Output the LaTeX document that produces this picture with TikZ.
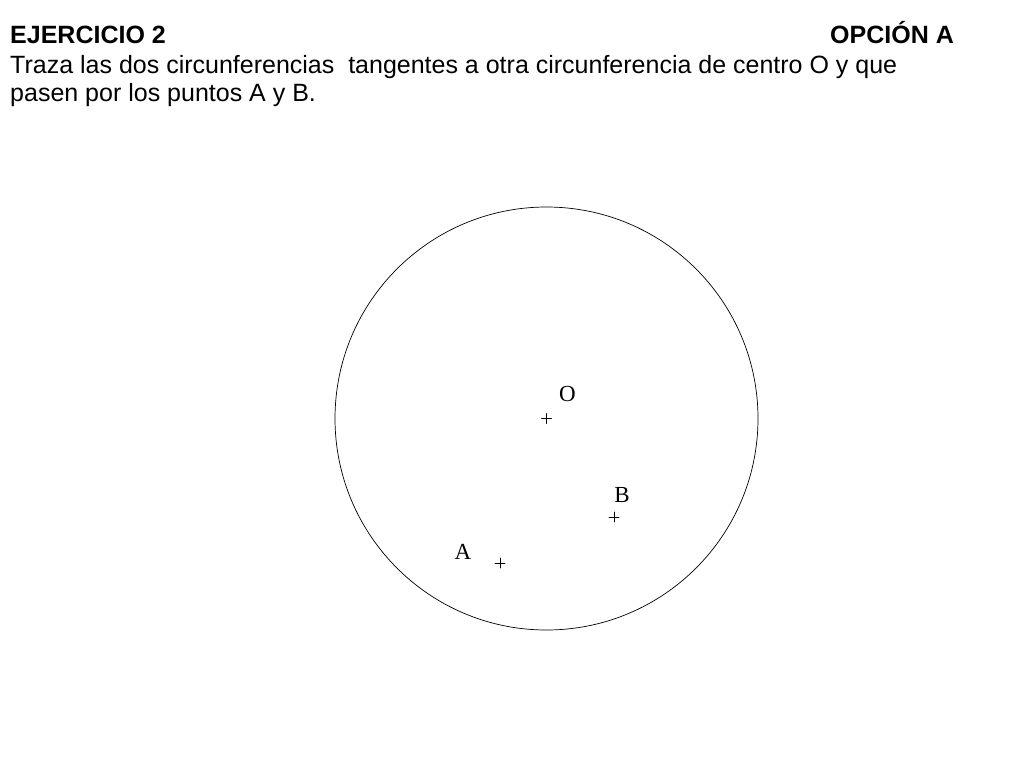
\documentclass[tikz,border=0pt]{standalone}
\usepackage{fontspec}
\setmainfont{Liberation Sans}
\newfontfamily\labelfont{Liberation Serif}
\tikzset{
  enunciado/.style={anchor=base west, inner sep=0pt, font=\fontsize{25}{29}\selectfont},
  rotulo/.style={inner sep=0pt, font=\labelfont\fontsize{23}{25}\selectfont},
  cruz/.style={line width=0.8pt}
}
\begin{document}
\begin{tikzpicture}[x=1pt, y=-1pt, line join=round, line cap=round]
			\useasboundingbox (0,0) rectangle (1024,768);
			% enunciado
			\node[enunciado] (titulo) at (10,44) {\textbf{EJERCICIO 2}};
			\node[enunciado] (opcion) at (830,44) {\textbf{OPCIÓN A}};
			\node[enunciado] (linea1) at (10,73) {Traza las dos circunferencias\ \ tangentes a otra circunferencia de centro O y que};
			\node[enunciado] (linea2) at (10,101) {pasen por los puntos A y B.};
			% puntos
			\coordinate (O) at (546.5,418.5);
			\coordinate (A) at (500,563);
			\coordinate (B) at (614,517);
			\draw[line width=0.7pt] (O) circle (211.5);
			\foreach \p in {O,A,B}
			\draw[cruz] (\p) +(-5,0)--+(5,0) (\p) +(0,-5)--+(0,5);
			\node[rotulo] (labO) at (567.5,394) {O};
			\node[rotulo] (labB) at (622,495) {B};
			\node[rotulo] (labA) at (463,552) {A};
		\end{tikzpicture}
\end{document}
